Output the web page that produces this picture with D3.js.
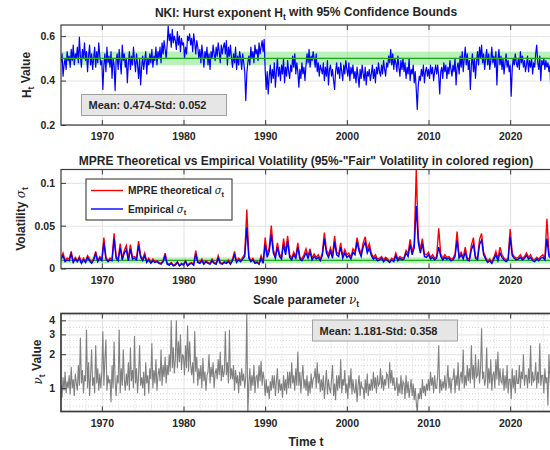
<!DOCTYPE html>
<html>
<head>
<meta charset="utf-8">
<script src="https://cdn.jsdelivr.net/npm/d3@7"></script>
<style>
  body { margin: 0; background: #fff; }
  svg { display: block; }
  text { font-family: "Liberation Sans", Arial, sans-serif; font-weight: bold; fill: #262626; }
  .grid line { stroke: #e3e3e3; stroke-width: 1; }
  .grid .domain { display: none; }
  .minor line { stroke: #c8c8c8; stroke-width: 0.8; stroke-dasharray: 1,2; }
  .axis line { stroke: #3a3a3a; }
  .axis text { font-size: 10.5px; }
</style>
</head>
<body>
<svg id="chart" width="550" height="450"></svg>
<script>
"use strict";

// === Data ===
const startYear = 1965;
const hPerYear = 8;
const volPerYear = 4;
const nuPerYear = 8;

// Hurst exponent H_t, 1965..2025 (8 samples a year)
const hurst = [
  .48,.52,.42,.47,.50,.45,.53,.49, .51,.46,.54,.49,.56,.47,.52,.50,
  .55,.48,.595,.51,.46,.54,.50,.57, .49,.53,.44,.51,.56,.47,.52,.45,
  .50,.55,.46,.53,.48,.57,.51,.47, .49,.36,.47,.52,.44,.55,.48,.51,
  .46,.53,.41,.50,.47,.355,.49,.52, .45,.54,.48,.43,.56,.49,.52,.46,
  .50,.39,.48,.53,.45,.51,.47,.55, .49,.44,.52,.47,.41,.50,.38,.46,
  .51,.45,.49,.53,.43,.50,.47,.52, .48,.54,.46,.51,.49,.55,.47,.53,
  .50,.55,.48,.57,.52,.58,.54,.50, .56,.645,.58,.61,.55,.63,.57,.60,
  .58,.54,.62,.56,.60,.53,.59,.56, .57,.50,.55,.52,.60,.58,.61,.56,
  .59,.53,.61,.57,.52,.58,.55,.50, .54,.48,.56,.51,.46,.53,.50,.55,
  .47,.52,.45,.53,.50,.56,.52,.49, .55,.51,.57,.53,.48,.56,.52,.55,
  .57,.52,.58,.47,.55,.51,.56,.50, .46,.52,.48,.55,.45,.51,.47,.53,
  .50,.45,.52,.48,.44,.31,.43,.48, .51,.47,.55,.50,.53,.48,.56,.52,
  .54,.49,.57,.52,.55,.58,.53,.585, .45,.36,.44,.34,.42,.47,.39,.45,
  .41,.48,.37,.44,.50,.42,.46,.40, .47,.43,.50,.39,.46,.42,.49,.44,
  .41,.47,.44,.51,.46,.52,.43,.48, .44,.37,.45,.41,.48,.43,.46,.40,
  .47,.52,.48,.54,.46,.51,.49,.53, .50,.46,.52,.44,.48,.42,.47,.45,
  .43,.48,.40,.46,.42,.49,.38,.45, .47,.42,.45,.40,.36,.44,.48,.43,
  .46,.41,.48,.44,.40,.47,.43,.49, .45,.42,.48,.40,.46,.43,.47,.41,
  .44,.39,.46,.42,.37,.45,.41,.47, .43,.40,.46,.38,.44,.42,.45,.40,
  .43,.47,.41,.45,.39,.46,.43,.48, .44,.42,.47,.43,.49,.45,.42,.48,
  .46,.51,.48,.54,.47,.52,.45,.50, .48,.44,.51,.46,.42,.49,.45,.50,
  .44,.48,.41,.46,.43,.50,.40,.45, .43,.47,.39,.44,.36,.27,.38,.42,
  .40,.45,.42,.47,.39,.44,.46,.42, .45,.41,.47,.43,.46,.40,.44,.47,
  .43,.47,.42,.34,.44,.46,.41,.48, .44,.47,.41,.46,.43,.49,.45,.42,
  .47,.44,.50,.38,.46,.48,.43,.51, .46,.53,.44,.50,.55,.47,.52,.45,
  .49,.36,.47,.52,.44,.50,.41,.48, .53,.47,.55,.50,.56,.48,.52,.45,
  .50,.54,.47,.52,.45,.49,.55,.48, .51,.46,.53,.38,.49,.54,.47,.51,
  .45,.50,.43,.48,.52,.46,.49,.44, .47,.33,.45,.50,.47,.52,.48,.46,
  .50,.45,.53,.48,.51,.46,.49,.44, .47,.51,.44,.49,.46,.50,.43,.48,
  .46,.52,.56,.48,.45,.51,.40,.49, .47,.50,.45,.49,.46,.48,.44,.47,
  .32
];

// MPRE theoretical sigma_t (4 samples a year)
const sigmaTheory = [
  .013,.018,.009,.012, .011,.020,.008,.013, .009,.014,.007,.012, .008,.015,.011,.007,
  .012,.020,.009,.014, .011,.036,.013,.009, .012,.011,.041,.014, .011,.029,.012,.021,
  .027,.011,.028,.013, .014,.012,.032,.015, .011,.018,.008,.012, .007,.011,.008,.009,
  .007,.006,.009,.018, .006,.005,.007,.004, .005,.008,.004,.006, .005,.009,.004,.006,
  .007,.005,.021,.008, .007,.011,.006,.009, .007,.006,.011,.007, .006,.015,.007,.006,
  .008,.007,.010,.006, .011,.020,.008,.012, .009,.013,.017,.069, .015,.009,.012,.007,
  .008,.006,.015,.007, .036,.016,.025,.050, .022,.014,.030,.017, .013,.035,.019,.038,
  .016,.012,.019,.014, .030,.013,.011,.016, .023,.015,.023,.012, .017,.013,.016,.011,
  .018,.042,.022,.016, .024,.015,.038,.019, .017,.030,.014,.022, .016,.018,.013,.023,
  .019,.036,.024,.017, .030,.037,.022,.029, .018,.013,.016,.011, .012,.014,.010,.013,
  .011,.008,.012,.010, .018,.011,.014,.012, .013,.021,.017,.034, .019,.029,.115,.036,
  .022,.035,.017,.016, .019,.013,.016,.012, .014,.047,.017,.012, .016,.013,.014,.011,
  .012,.017,.043,.014, .019,.013,.025,.012, .011,.027,.036,.014, .012,.034,.041,.019,
  .013,.008,.011,.007, .013,.020,.011,.025, .016,.012,.010,.012, .046,.018,.014,.012,
  .013,.016,.012,.014, .018,.013,.016,.011, .010,.013,.011,.014, .016,.012,.058,.017,
  .014
];

// Empirical sigma_t (4 samples a year)
const sigmaEmpirical = [
  .011,.015,.008,.010, .009,.017,.007,.011, .008,.012,.006,.010, .007,.013,.009,.006,
  .010,.017,.008,.012, .009,.030,.011,.008, .010,.009,.035,.012, .009,.024,.010,.018,
  .022,.009,.023,.011, .012,.010,.027,.013, .009,.015,.007,.010, .006,.009,.007,.008,
  .006,.005,.008,.015, .005,.004,.006,.003, .004,.007,.003,.005, .004,.008,.003,.005,
  .006,.004,.017,.007, .006,.009,.005,.008, .006,.005,.009,.006, .005,.012,.006,.005,
  .007,.006,.008,.005, .009,.016,.007,.010, .008,.011,.014,.048, .012,.008,.010,.006,
  .007,.005,.012,.006, .028,.013,.020,.040, .018,.012,.025,.014, .011,.028,.016,.032,
  .013,.010,.016,.012, .025,.011,.009,.013, .018,.012,.019,.010, .014,.011,.013,.009,
  .015,.035,.018,.013, .020,.012,.031,.016, .014,.025,.012,.018, .013,.015,.011,.019,
  .016,.031,.020,.014, .025,.031,.018,.024, .015,.011,.013,.009, .010,.012,.008,.011,
  .009,.007,.010,.008, .015,.009,.012,.010, .011,.018,.014,.028, .016,.024,.073,.030,
  .018,.029,.014,.013, .016,.011,.013,.010, .012,.025,.014,.010, .013,.011,.012,.009,
  .010,.014,.033,.012, .016,.011,.019,.010, .009,.022,.028,.012, .010,.028,.033,.016,
  .011,.007,.009,.006, .011,.016,.009,.018, .013,.010,.008,.010, .037,.015,.012,.010,
  .011,.013,.010,.012, .015,.011,.013,.009, .008,.011,.009,.012, .013,.010,.035,.014,
  .012
];

// Scale parameter nu_t, 1965..2025 (8 samples a year)
const nu = [
  1.05,0.82,1.25,0.95,1.4,0.9,1.15,1.0, 1.3,0.88,1.55,1.0,1.2,0.85,1.35,1.1,
  0.95,1.6,1.05,2.8,1.1,1.45,0.9,1.3, 1.15,3.3,1.0,1.7,0.85,1.3,2.2,1.05,
  1.25,0.9,2.4,1.1,1.5,0.95,1.35,1.0, 1.4,3.2,1.05,1.8,2.7,0.95,1.3,1.1,
  1.2,0.75,1.6,1.0,2.6,1.15,0.85,1.3, 1.1,3.3,0.9,1.5,1.05,2.2,1.2,0.95,
  1.35,1.05,1.7,0.95,2.3,1.15,1.45,1.0, 2.9,1.1,1.5,0.9,1.3,2.4,1.05,1.25,
  1.0,1.4,0.85,1.7,1.1,1.3,0.9,1.5, 1.2,2.5,1.0,1.45,1.1,1.8,0.95,1.3,
  1.5,1.15,2.2,1.05,1.6,1.25,1.9,1.1, 1.6,1.3,2.0,1.4,4.0,1.5,2.3,1.35,
  1.8,4.0,1.5,2.6,1.7,3.0,1.45,2.0, 1.9,1.3,2.4,1.5,3.6,1.4,2.6,1.6,
  1.3,1.7,1.1,3.2,1.4,1.9,1.05,1.5, 1.2,1.6,1.0,1.85,1.15,1.4,0.95,1.3,
  1.4,2.0,1.1,1.55,1.25,1.7,1.0,1.35, 1.5,1.2,1.8,1.3,2.1,1.15,1.6,1.25,
  1.4,3.2,1.3,1.7,1.1,3.3,1.2,1.5, 1.2,1.6,0.95,1.45,1.1,1.3,0.9,1.4,
  1.05,1.5,1.15,1.35,1.0,1.25,4.8,0.58, 1.1,1.5,0.95,1.3,1.05,1.6,0.9,1.25,
  1.3,1.0,1.6,1.15,1.75,1.05,1.4,1.2, 0.85,1.2,0.9,1.05,0.8,1.15,0.95,1.3,
  1.0,1.3,0.85,1.15,1.5,0.9,1.2,0.95, 1.1,0.82,1.3,0.95,1.2,0.88,1.4,1.0,
  1.4,1.0,1.7,1.1,1.3,0.95,1.5,1.05, 2.1,1.05,1.4,0.9,1.25,1.6,1.0,1.2,
  0.95,1.3,0.85,1.15,0.9,1.35,1.0,1.2, 1.25,1.5,1.0,1.7,1.1,1.35,0.92,1.2,
  0.95,1.3,0.8,1.1,1.45,0.88,1.2,1.0, 0.9,1.2,1.6,0.85,1.1,0.78,1.3,0.95,
  1.3,1.0,1.8,0.9,1.2,1.05,1.45,0.9, 1.1,0.8,1.3,1.0,1.5,0.88,1.2,0.95,
  0.9,1.2,0.75,1.05,1.3,0.85,1.15,1.0, 1.0,0.8,1.2,0.9,1.35,0.85,1.1,0.95,
  1.2,0.95,1.4,1.0,1.25,0.9,1.3,1.05, 1.1,1.5,1.0,1.3,0.95,1.2,1.05,1.35,
  1.3,1.0,1.7,1.1,1.45,1.05,1.25,0.95, 1.0,1.25,0.85,1.1,0.9,1.3,0.88,1.15,
  1.1,0.8,1.3,0.9,1.15,0.82,1.0,1.2, 0.85,1.1,0.78,1.0,0.75,0.6,0.9,0.8,
  1.0,0.8,1.2,0.9,1.05,0.85,1.1,0.95, 1.2,0.95,1.4,1.05,1.25,0.9,1.3,1.0,
  1.0,1.3,2.4,0.9,1.2,0.95,1.15,1.0, 1.3,0.95,1.15,1.6,1.0,1.25,0.9,1.2,
  1.2,1.5,0.9,1.3,1.05,1.7,0.95,1.25, 1.4,1.1,2.2,1.0,1.3,1.05,1.6,1.15,
  1.5,1.1,2.4,1.2,1.6,1.0,2.0,1.25, 1.3,1.8,1.1,1.5,3.4,1.2,1.4,1.05,
  1.2,2.3,1.0,1.5,1.1,1.8,0.95,1.3, 1.4,1.0,1.8,1.2,2.1,1.05,1.5,1.15,
  1.1,1.5,0.95,1.3,1.0,1.6,0.9,1.2, 1.2,0.8,1.5,1.0,1.3,0.9,1.45,1.1,
  1.1,1.6,1.0,1.4,1.2,2.0,1.05,1.3, 1.3,1.0,1.5,1.1,2.4,1.05,1.4,1.15,
  1.2,1.7,1.0,1.4,1.1,2.5,1.05,1.3, 1.3,0.9,1.5,1.1,1.25,0.7,2.0,1.2,
  0.9
];

const yearTicks = [1970, 1980, 1990, 2000, 2010, 2020];
const yearMinorTicks = [1966, 1968, 1972, 1974, 1976, 1978, 1982, 1984, 1986, 1988,
  1992, 1994, 1996, 1998, 2002, 2004, 2006, 2008, 2012, 2014, 2016, 2018, 2022, 2024];
const hTicks = [0.2, 0.4, 0.6];
const volTicks = [0, 0.05, 0.1];
const nuTicks = [1, 2, 3, 4];
const nuMinorTicks = [0.7, 0.8, 0.9, 1.2, 1.4, 1.6, 1.8, 2.33, 2.67, 3.5, 4.5];

const hBand = [0.47, 0.53], hLevel = 0.5;
const volBand = [0.006, 0.013], volLevel = 0.0095;
const hStats = "Mean: 0.474-Std: 0.052";
const nuStats = "Mean: 1.181-Std: 0.358";

// === Setup ===
const svg = d3.select("#chart");
const x = d3.scaleLinear().domain([1965, 2025]).range([61, 551]);
const L = x.range()[0], R = x.range()[1], midX = (L + R) / 2;

const timeOf = perYear => (d, i) => x(startYear + i / perYear);

// text with subscripts; parts: {t:"text"}, {sub:"t"}, {g:"σ"} (greek, italic serif)
function richText(sel, parts) {
  let shifted = false;
  parts.forEach(p => {
    const t = sel.append("tspan");
    if (p.sub) {
      t.text(p.sub).attr("font-size", "0.72em").attr("dy", shifted ? 0 : "0.35em");
      shifted = true;
    } else {
      t.text(p.g || p.t);
      if (shifted) { t.attr("dy", "-0.35em"); shifted = false; }
      if (p.g) t.attr("font-family", "'DejaVu Serif', serif").attr("font-style", "italic").attr("font-weight", "normal");
    }
  });
  return sel;
}

function makePanel(id, top, bottom, y, opts) {
  const g = svg.append("g");
  svg.append("clipPath").attr("id", id).append("rect")
    .attr("x", L).attr("y", top).attr("width", R - L).attr("height", bottom - top);

  if (opts.minorX) {
    g.append("g").attr("class", "minor").attr("transform", `translate(0,${bottom})`)
      .call(d3.axisBottom(x).tickValues(yearMinorTicks).tickSize(-(bottom - top)).tickFormat(""))
      .select(".domain").remove();
  }
  if (opts.minorY) {
    g.append("g").attr("class", "minor").attr("transform", `translate(${L},0)`)
      .call(d3.axisLeft(y).tickValues(opts.minorY).tickSize(-(R - L)).tickFormat(""))
      .select(".domain").remove();
  }
  g.append("g").attr("class", "grid").attr("transform", `translate(0,${bottom})`)
    .call(d3.axisBottom(x).tickValues(yearTicks).tickSize(-(bottom - top)).tickFormat(""));
  g.append("g").attr("class", "grid").attr("transform", `translate(${L},0)`)
    .call(d3.axisLeft(y).tickValues(opts.ticks).tickSize(-(R - L)).tickFormat(""));

  const plot = g.append("g").attr("clip-path", `url(#${id})`);
  return { g, plot, top, bottom, y, opts };
}

function finishPanel(p) {
  const { g, top, bottom, y, opts } = p;
  const bx = g.append("g").attr("class", "axis").attr("transform", `translate(0,${bottom})`)
    .call(d3.axisBottom(x).tickValues(yearTicks).tickSizeInner(-5).tickSizeOuter(0)
      .tickPadding(8).tickFormat(d3.format("d")));
  bx.select(".domain").remove();
  const tx = g.append("g").attr("class", "axis").attr("transform", `translate(0,${top})`)
    .call(d3.axisTop(x).tickValues(yearTicks).tickSizeInner(-5).tickSizeOuter(0).tickFormat(""));
  tx.select(".domain").remove();
  const ly = g.append("g").attr("class", "axis").attr("transform", `translate(${L},0)`)
    .call(d3.axisLeft(y).tickValues(opts.ticks).tickSizeInner(-5).tickSizeOuter(0)
      .tickPadding(6).tickFormat(opts.fmt));
  ly.select(".domain").remove();
  g.append("rect")
    .attr("x", L).attr("y", top).attr("width", R - L).attr("height", bottom - top)
    .attr("fill", "none").attr("stroke", "#3a3a3a").attr("stroke-width", opts.frame || 1.2);
}

function statsBox(g, x0, y0, w, h, label) {
  g.append("rect").attr("x", x0).attr("y", y0).attr("width", w).attr("height", h)
    .attr("fill", "#e6e6e6").attr("stroke", "#a0a0a0").attr("stroke-width", 1);
  g.append("text").attr("x", x0 + 7).attr("y", y0 + h / 2 + 4)
    .attr("font-size", "11px").text(label);
}

function yLabel(cx, cy, parts) {
  richText(svg.append("text")
    .attr("transform", `translate(${cx},${cy}) rotate(-90)`)
    .attr("text-anchor", "middle").attr("font-size", "12px"), parts);
}

function title(cy, parts) {
  richText(svg.append("text").attr("x", midX).attr("y", cy)
    .attr("text-anchor", "middle").attr("font-size", "12px"), parts);
}

// === Panel 1: Hurst exponent ===
const y1 = d3.scaleLinear().domain([0.2, 0.65]).range([125, 25]);
const p1 = makePanel("clip1", 25, 125, y1, { ticks: hTicks, fmt: d3.format(".1f") });
p1.plot.append("rect")
  .attr("x", L).attr("width", R - L)
  .attr("y", y1(hBand[1])).attr("height", y1(hBand[0]) - y1(hBand[1]))
  .attr("fill", "#7ee87e").attr("opacity", 0.55);
p1.plot.append("path").datum(hurst)
  .attr("fill", "none").attr("stroke", "#0000ff").attr("stroke-width", 1.2)
  .attr("stroke-linejoin", "round")
  .attr("d", d3.line().x(timeOf(hPerYear)).y(d => y1(d)));
p1.plot.append("line")
  .attr("x1", L).attr("x2", R).attr("y1", y1(hLevel)).attr("y2", y1(hLevel))
  .attr("stroke", "#1fa81f").attr("stroke-width", 1.3);
finishPanel(p1);
statsBox(p1.g, 81.5, 94.5, 145, 21, hStats);
title(17, [{ t: "NKI: Hurst exponent H" }, { sub: "t" }, { t: " with 95% Confidence Bounds" }]);
yLabel(31, 75, [{ t: "H" }, { sub: "t" }, { t: " Value" }]);

// === Panel 2: volatility ===
const y2 = d3.scaleLinear().domain([0, 0.1156]).range([268.5, 169.5]);
const p2 = makePanel("clip2", 169.5, 268.5, y2, { ticks: volTicks, fmt: d => d === 0 ? "0" : String(d) });
p2.plot.append("rect")
  .attr("x", L).attr("width", R - L)
  .attr("y", y2(volBand[1])).attr("height", y2(volBand[0]) - y2(volBand[1]))
  .attr("fill", "#7ee87e").attr("opacity", 0.55);
p2.plot.append("line")
  .attr("x1", L).attr("x2", R).attr("y1", y2(volLevel)).attr("y2", y2(volLevel))
  .attr("stroke", "#1fa81f").attr("stroke-width", 1.2);
p2.plot.append("path").datum(sigmaTheory)
  .attr("fill", "none").attr("stroke", "#ff0000").attr("stroke-width", 1.4)
  .attr("d", d3.line().x(timeOf(volPerYear)).y(d => y2(d)));
p2.plot.append("path").datum(sigmaEmpirical)
  .attr("fill", "none").attr("stroke", "#0000ff").attr("stroke-width", 1.4)
  .attr("d", d3.line().x(timeOf(volPerYear)).y(d => y2(d)));
finishPanel(p2);

// legend
const lg = p2.g.append("g");
lg.append("rect").attr("x", 86).attr("y", 179).attr("width", 146).attr("height", 41)
  .attr("fill", "#fff").attr("stroke", "#262626").attr("stroke-width", 1);
[{ c: "#ff0000", parts: [{ t: "MPRE theoretical " }, { g: "σ" }, { sub: "t" }], y: 190.5 },
 { c: "#0000ff", parts: [{ t: "Empirical " }, { g: "σ" }, { sub: "t" }], y: 209 }].forEach(e => {
  lg.append("line").attr("x1", 91).attr("x2", 123).attr("y1", e.y).attr("y2", e.y)
    .attr("stroke", e.c).attr("stroke-width", 1.4);
  richText(lg.append("text").attr("x", 128).attr("y", e.y + 3.5).attr("font-size", "10.2px"), e.parts);
});
title(165, [{ t: "MPRE Theoretical vs Empirical Volatility (95%-\"Fair\" Volatility in colored region)" }]);
yLabel(25, 219, [{ t: "Volatility " }, { g: "σ" }, { sub: "t" }]);

// === Panel 3: scale parameter ===
const y3 = d3.scaleLog().domain([0.62, 4.6]).range([411.5, 313.5]);
const p3 = makePanel("clip3", 313.5, 411.5, y3,
  { ticks: nuTicks, fmt: d3.format("d"), minorX: true, minorY: nuMinorTicks, frame: 1.7 });
p3.plot.append("path").datum(nu)
  .attr("fill", "none").attr("stroke", "#808080").attr("stroke-width", 1.1)
  .attr("d", d3.line().x(timeOf(nuPerYear)).y(d => y3(d)));
finishPanel(p3);
statsBox(p3.g, 312.5, 320, 145, 21, nuStats);
title(304, [{ t: "Scale parameter " }, { g: "ν" }, { sub: "t" }]);
yLabel(42, 362, [{ g: "ν" }, { sub: "t" }, { t: " Value" }]);
svg.append("text").attr("x", midX).attr("y", 446).attr("text-anchor", "middle")
  .attr("font-size", "12px").text("Time t");
</script>
</body>
</html>
